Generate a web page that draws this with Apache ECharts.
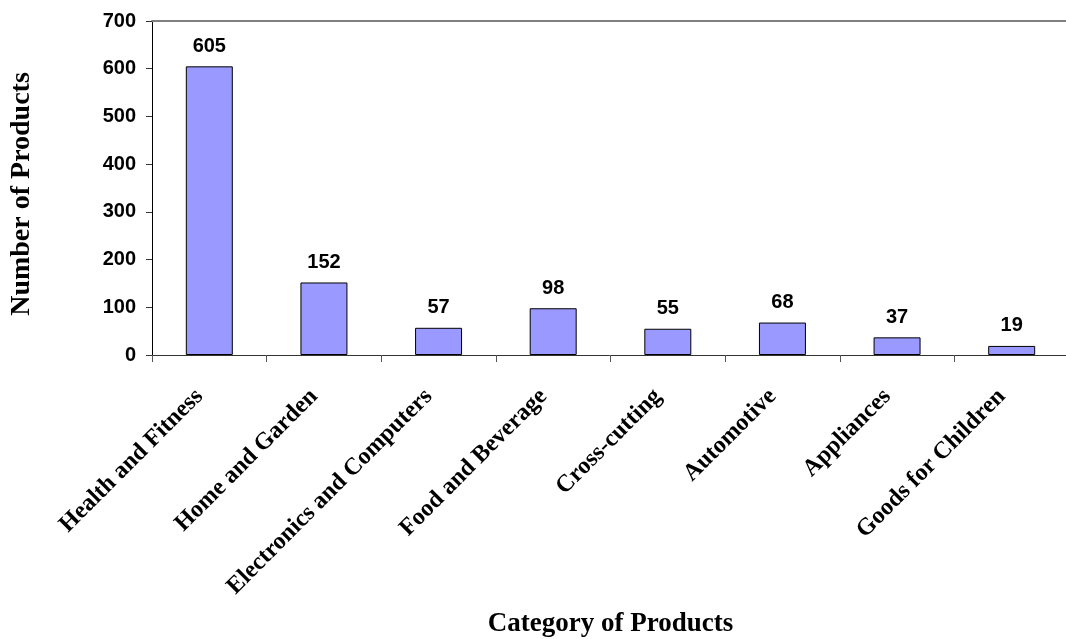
<!DOCTYPE html>
<html>
<head>
<meta charset="utf-8">
<script src="https://cdn.jsdelivr.net/npm/echarts@6/dist/echarts.min.js"></script>
<style>
  html, body { margin: 0; padding: 0; background: #fff; }
  #chart { width: 1066px; height: 639px; }
</style>
</head>
<body>
<div id="chart"></div>
<script>
const categories = ['Health and Fitness', 'Home and Garden', 'Electronics and Computers',
  'Food and Beverage', 'Cross-cutting', 'Automotive', 'Appliances', 'Goods for Children'];
const productCounts = [605, 152, 57, 98, 55, 68, 37, 19];

const serif = '"Liberation Serif", "Times New Roman", serif';
const sans = '"Liberation Sans", Arial, sans-serif';

const chart = echarts.init(document.getElementById('chart'));
chart.setOption({
  animation: false,
  grid: { left: 152, right: -3, top: 21, bottom: 284, outerBoundsMode: 'none', containLabel: false },
  xAxis: [{
    type: 'category',
    data: categories,
    name: 'Category of Products',
    nameLocation: 'middle',
    nameGap: 256,
    nameTextStyle: { fontFamily: serif, fontWeight: 'bold', fontSize: 27, color: '#000' },
    axisLine: { lineStyle: { color: '#333', width: 1 } },
    axisTick: { show: true, length: 7, alignWithLabel: false, lineStyle: { color: '#555' } },
    axisLabel: {
      rotate: 45, margin: 28, interval: 0, padding: [0, 14, 0, 0],
      fontFamily: serif, fontWeight: 'bold', fontSize: 24, color: '#000'
    }
  }, {
    type: 'category',
    data: categories,
    position: 'top',
    axisLine: { lineStyle: { color: '#808080', width: 2 } },
    axisTick: { show: false },
    axisLabel: { show: false }
  }],
  yAxis: {
    type: 'value',
    min: 0, max: 700, interval: 100,
    name: 'Number of Products',
    nameLocation: 'middle',
    nameRotate: 90,
    nameGap: 116,
    nameTextStyle: {
      fontFamily: serif, fontWeight: 'bold', fontSize: 28, color: '#000',
      padding: [0, 12, 0, 0]
    },
    axisLine: { show: true, lineStyle: { color: '#000', width: 1 } },
    axisTick: { show: true, length: 6, lineStyle: { color: '#333' } },
    splitLine: { show: false },
    axisLabel: { margin: 16, fontFamily: sans, fontWeight: 'bold', fontSize: 20, color: '#000' }
  },
  series: [{
    type: 'bar',
    data: productCounts,
    barWidth: '41%',
    itemStyle: { color: '#9999FF', borderColor: '#000', borderWidth: 1 },
    label: {
      show: true, position: 'top', distance: 10,
      fontFamily: sans, fontWeight: 'bold', fontSize: 20, color: '#000'
    }
  }]
});
</script>
</body>
</html>
